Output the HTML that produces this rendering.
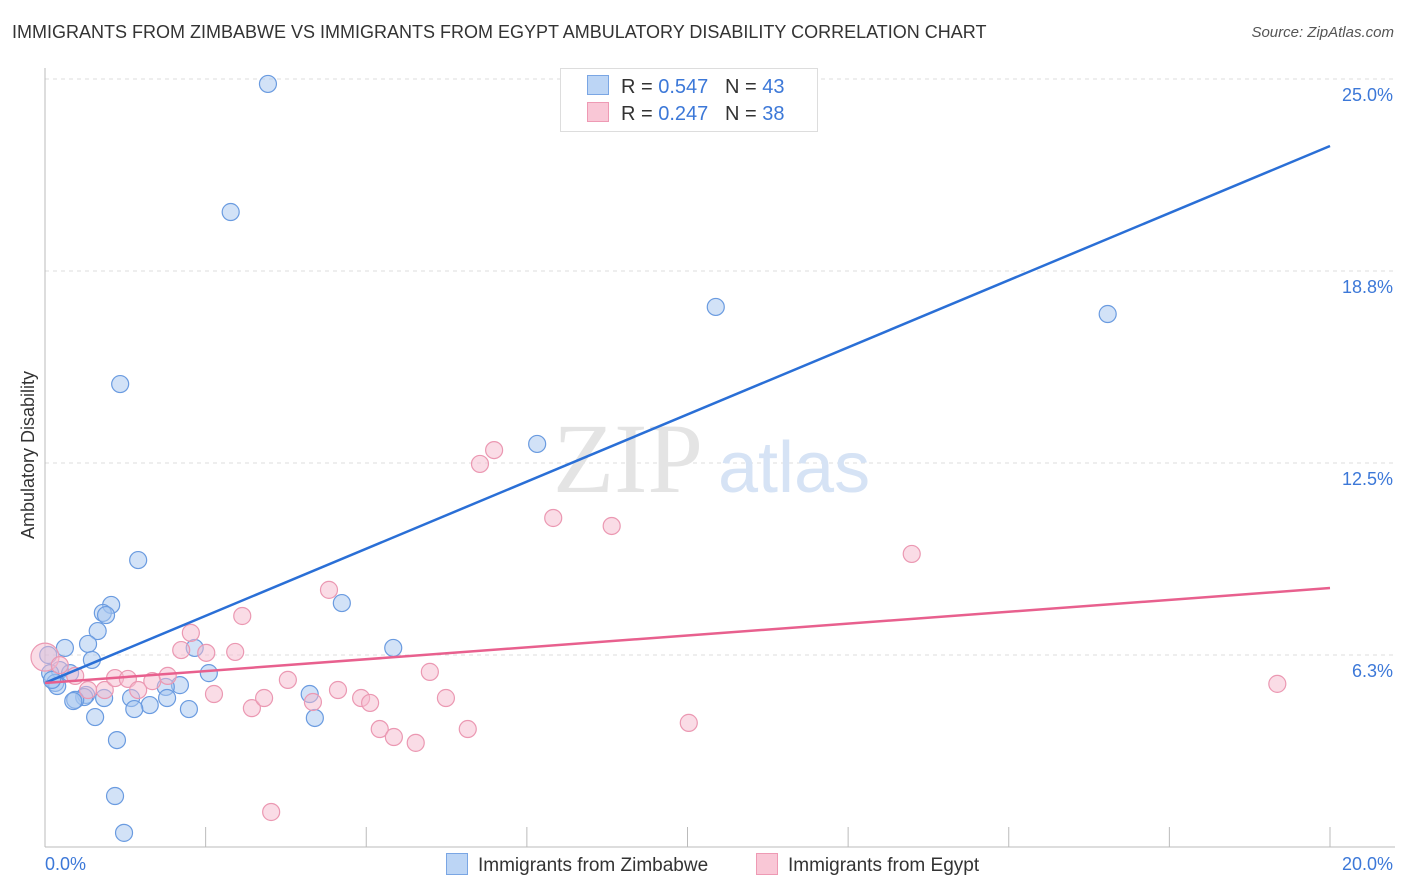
<!DOCTYPE html>
<html><head><meta charset="utf-8"><style>
body{margin:0;background:#fff;font-family:"Liberation Sans",sans-serif;}
#wrap{position:relative;width:1406px;height:892px;overflow:hidden;}
.t{position:absolute;white-space:nowrap;}
</style></head><body>
<div id="wrap">
<div class="t" style="left:12px;top:22px;font-size:18px;color:#333;">IMMIGRANTS FROM ZIMBABWE VS IMMIGRANTS FROM EGYPT AMBULATORY DISABILITY CORRELATION CHART</div>
<div class="t" style="right:12px;top:24px;font-size:15px;color:#555;font-style:italic;">Source: ZipAtlas.com</div>
<svg id="plot" width="1406" height="892" style="position:absolute;left:0;top:0"></svg>
</div>
<script>
const xTicks=[0,2.5,5,7.5,10,12.5,15,17.5,20];
const yTicks=[6.25,12.5,18.75,25];
const yTickLabels=["6.3%","12.5%","18.8%","25.0%"];
const xLabels=["0.0%","20.0%"];
const zimX=[3.47,2.89,10.44,16.54,1.17,7.66,1.45,4.62,1.03,0.90,0.95,0.82,0.31,5.42,0.67,2.33,0.73,0.23,0.39,0.08,0.16,0.19,2.55,2.10,1.88,4.12,0.64,0.61,0.47,0.44,0.92,1.34,1.90,1.63,1.39,2.24,0.78,4.20,1.12,1.09,1.23,0.05,0.11];
const zimY=[24.84,20.67,17.58,17.35,15.07,13.12,9.34,7.94,7.88,7.62,7.55,7.03,6.48,6.48,6.61,6.48,6.09,5.76,5.66,5.66,5.34,5.24,5.66,5.27,5.21,4.98,4.95,4.88,4.79,4.75,4.85,4.85,4.85,4.62,4.49,4.49,4.23,4.20,3.48,1.66,0.46,6.25,5.44];
const egyX=[0.0,0.23,0.47,0.93,1.09,1.29,1.45,1.67,1.91,2.12,2.27,2.51,2.63,2.96,3.07,3.22,3.41,3.52,3.78,4.17,4.42,4.56,4.92,5.06,5.21,5.43,5.77,5.99,6.24,6.58,6.77,6.99,7.91,8.82,10.02,13.49,19.18,0.67];
const egyY=[6.18,5.92,5.57,5.11,5.50,5.47,5.11,5.40,5.57,6.41,6.97,6.32,4.98,6.35,7.52,4.52,4.85,1.14,5.44,4.72,8.37,5.11,4.85,4.69,3.84,3.58,3.39,5.70,4.85,3.84,12.47,12.92,10.71,10.45,4.04,9.54,5.31,5.11];
const zimTrend=[5.34,22.82];
const egyTrend=[5.34,8.43];
const X0=45,X1=1330,Y0=847,PXY=30.72;
const sx=v=>X0+(v/20)*(X1-X0);
const sy=v=>Y0-v*PXY;
const svg=document.getElementById('plot');
const NS='http://www.w3.org/2000/svg';
function mk(tag,attrs,parent){const e=document.createElementNS(NS,tag);for(const k in attrs)e.setAttribute(k,attrs[k]);(parent||svg).appendChild(e);return e;}
yTicks.forEach((v,i)=>{
 const g=mk('line',{x1:X0,x2:1395,y1:sy(v),y2:sy(v),stroke:'#ddd','stroke-dasharray':'4,4'});
 
 
 const t=mk('text',{x:1393,y:sy(v)+22,'text-anchor':'end','font-size':18,fill:'#3c78d8','font-family':'Liberation Sans, sans-serif'});
 t.textContent=yTickLabels[i];
 
 
});
const ax=mk('line',{x1:X0,x2:X0,y1:68,y2:Y0,stroke:'#bbb'});


const bx=mk('line',{x1:X0,x2:1395,y1:Y0,y2:Y0,stroke:'#bbb'});


xTicks.forEach(v=>{
 const l=mk('line',{x1:sx(v),x2:sx(v),y1:827,y2:Y0,stroke:'#bbb'});
 
 
});
[[0,45,'start'],[1,1393,'end']].forEach(([i,x,a])=>{
 const t=mk('text',{x:x,y:870,'text-anchor':a,'font-size':18,fill:'#3c78d8','font-family':'Liberation Sans, sans-serif'});
 t.textContent=xLabels[i];
 
 
});
const yt=mk('text',{x:34,y:455,transform:'rotate(-90 34 455)','text-anchor':'middle','font-size':18,fill:'#333','font-family':'Liberation Sans, sans-serif'});
yt.textContent='Ambulatory Disability';


const w1=mk('text',{x:553,y:492,'font-size':100,fill:'#e4e4e4','font-family':'Liberation Serif, serif'});
w1.textContent='ZIP';


const w2=mk('text',{x:718,y:492,'font-size':72,fill:'#d6e3f5','font-family':'Liberation Sans, sans-serif'});
w2.textContent='atlas';


zimX.forEach((x,i)=>{
 const c=mk('circle',{cx:sx(x),cy:sy(zimY[i]),r:8.5,fill:'rgba(165,198,240,0.5)',stroke:'#6a9be0','stroke-width':1.2});
 
 
});
egyX.forEach((x,i)=>{
 const c=mk('circle',{cx:sx(x),cy:sy(egyY[i]),r:i===0?14:8.5,fill:'rgba(245,185,205,0.5)',stroke:'#eb98b2','stroke-width':1.2});
 
 
});
const l1=mk('line',{x1:sx(0),y1:sy(zimTrend[0]),x2:sx(20),y2:sy(zimTrend[1]),stroke:'#2a6fd6','stroke-width':2.5});


const l2=mk('line',{x1:sx(0),y1:sy(egyTrend[0]),x2:sx(20),y2:sy(egyTrend[1]),stroke:'#e8608e','stroke-width':2.5});


</script>
<div class="t" style="left:560px;top:68px;width:256px;height:62px;border:1px solid #ddd;background:#fff;font-size:20px;color:#333;">
 <div style="position:absolute;left:26px;top:6px;"><span style="display:inline-block;width:20px;height:18px;background:#bcd5f5;border:1px solid #7aa6e4;vertical-align:-2px;margin-right:12px"></span>R = <span style="color:#3c78d8">0.547</span>&nbsp;&nbsp;&nbsp;N = <span style="color:#3c78d8">43</span></div>
 <div style="position:absolute;left:26px;top:33px;"><span style="display:inline-block;width:20px;height:18px;background:#f9c7d6;border:1px solid #ee9ab4;vertical-align:-2px;margin-right:12px"></span>R = <span style="color:#3c78d8">0.247</span>&nbsp;&nbsp;&nbsp;N = <span style="color:#3c78d8">38</span></div>
</div>
<div class="t" style="left:446px;top:853px;font-size:19px;color:#333;"><span style="display:inline-block;width:20px;height:20px;background:#bcd5f5;border:1px solid #7aa6e4;vertical-align:-4px;margin-right:10px"></span>Immigrants from Zimbabwe</div>
<div class="t" style="left:756px;top:853px;font-size:19px;color:#333;"><span style="display:inline-block;width:20px;height:20px;background:#f9c7d6;border:1px solid #ee9ab4;vertical-align:-4px;margin-right:10px"></span>Immigrants from Egypt</div>
</body></html>
